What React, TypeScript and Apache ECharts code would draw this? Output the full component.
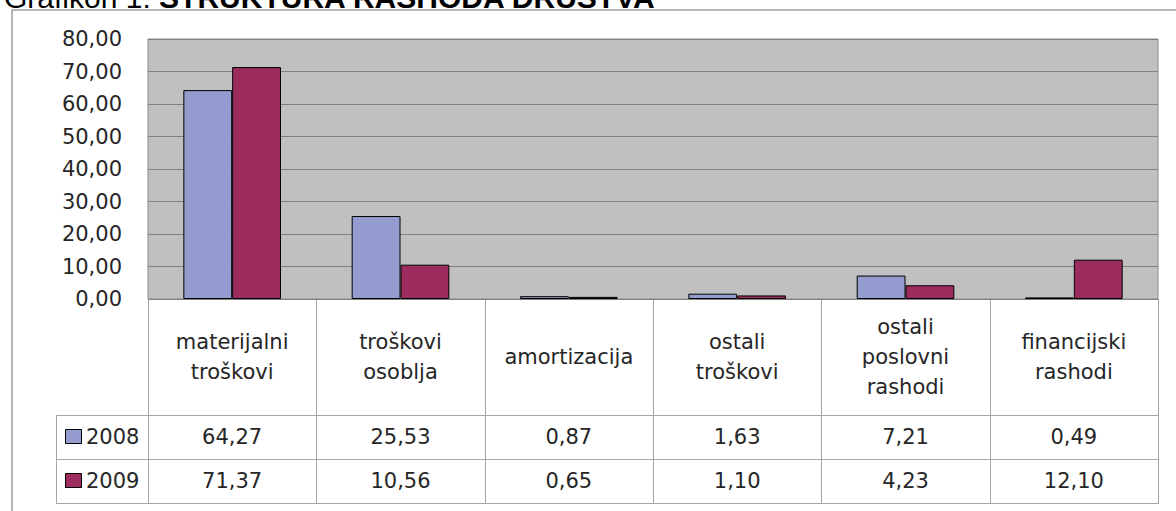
import React, { useEffect, useRef } from "react";
import * as echarts from "echarts";

const categories = [
  "materijalni\ntroškovi",
  "troškovi\nosoblja",
  "amortizacija",
  "ostali\ntroškovi",
  "ostali\nposlovni\nrashodi",
  "financijski\nrashodi",
];
const seriesNames = ["2008", "2009"];
const values2008 = [64.27, 25.53, 0.87, 1.63, 7.21, 0.49];
const values2009 = [71.37, 10.56, 0.65, 1.1, 4.23, 12.1];
const yMin = 0;
const yMax = 80;
const yInterval = 10;
const titlePlain = "Grafikon 1: ";
const titleBold = "STRUKTURA RASHODA DRUŠTVA";

const colors = ["#939BCF", "#9C2C5D"];
const FONT = "DejaVu Sans";
const FS = 21;

const fmt = (v: number) => v.toFixed(2).replace(".", ",");

export default function App() {
  const ref = useRef<HTMLDivElement>(null);
  useEffect(() => {
    if (!ref.current) return;
    const chart = echarts.init(ref.current, undefined, { renderer: "svg" });

    const W = 1176;
    const gridLeft = 148;
    const gridRight = 1158;
    const gridTop = 39;
    const gridBottom = 299;
    const rowTop1 = 415;
    const rowTop2 = 459;
    const rowBottom = 503;
    const legendLeft = 56;
    const n = categories.length;
    const colW = (gridRight - gridLeft) / n;
    const lineColor = "#A6A6A6";

    const graphics: any[] = [];
    // title (cut off at top, as in the reference)
    graphics.push({
      type: "text",
      x: 4,
      y: -3,
      style: {
        text: `{a|${titlePlain}}{b|${titleBold}}`,
        verticalAlign: "middle",
        rich: {
          a: { fontFamily: "Liberation Sans", fontSize: 30, fill: "#000" },
          b: { fontFamily: "Liberation Sans", fontSize: 30, fontWeight: "bold", fill: "#000" },
        },
      },
    });
    // outer border
    graphics.push({
      type: "polyline",
      shape: { points: [[12, 511], [12, 10], [W, 10]] },
      style: { stroke: "#A0A0A0", lineWidth: 1.5, fill: "none" },
    });
    // table verticals
    for (let i = 0; i <= n; i++) {
      const x = Math.round(gridLeft + i * colW) + 0.5;
      graphics.push({
        type: "line",
        shape: { x1: x, y1: gridBottom, x2: x, y2: rowBottom },
        style: { stroke: lineColor, lineWidth: 1 },
      });
    }
    graphics.push({
      type: "line",
      shape: { x1: legendLeft + 0.5, y1: rowTop1, x2: legendLeft + 0.5, y2: rowBottom },
      style: { stroke: lineColor, lineWidth: 1 },
    });
    [rowTop1, rowTop2, rowBottom].forEach((y) => {
      graphics.push({
        type: "line",
        shape: { x1: legendLeft, y1: y + 0.5, x2: gridRight + 1, y2: y + 0.5 },
        style: { stroke: lineColor, lineWidth: 1 },
      });
    });
    const rows = [values2008, values2009];
    const rowCenters = [(rowTop1 + rowTop2) / 2, (rowTop2 + rowBottom) / 2];
    rows.forEach((vals, r) => {
      const cy = rowCenters[r];
      graphics.push({
        type: "rect",
        shape: { x: 65.5, y: cy - 7.5, width: 16, height: 14 },
        style: { fill: colors[r], stroke: "#000", lineWidth: 1 },
      });
      graphics.push({
        type: "text",
        x: 86,
        y: cy,
        style: {
          text: seriesNames[r],
          fontFamily: FONT,
          fontSize: FS,
          fill: "#262626",
          verticalAlign: "middle",
        },
      });
      vals.forEach((v, i) => {
        graphics.push({
          type: "text",
          x: gridLeft + (i + 0.5) * colW,
          y: cy,
          style: {
            text: fmt(v),
            fontFamily: FONT,
            fontSize: FS,
            fill: "#262626",
            align: "center",
            verticalAlign: "middle",
          },
        });
      });
    });

    chart.setOption({
      animation: false,
      backgroundColor: "#fff",
      grid: {
        left: gridLeft,
        right: W - gridRight,
        top: gridTop,
        bottom: 511 - gridBottom,
        show: true,
        backgroundColor: "#C0C0C0",
        borderColor: "#8C8C8C",
        borderWidth: 1,
      },
      xAxis: {
        type: "category",
        data: categories,
        axisLine: { show: false },
        axisTick: { show: false },
        splitLine: { show: false },
        axisLabel: {
          interval: 0,
          fontFamily: FONT,
          fontSize: FS,
          lineHeight: 30,
          color: "#262626",
          verticalAlign: "middle",
          margin: (rowTop1 - gridBottom) / 2,
        },
      },
      yAxis: {
        type: "value",
        min: yMin,
        max: yMax,
        interval: yInterval,
        axisLine: { show: false },
        axisTick: { show: false },
        splitLine: { lineStyle: { color: "#808080", width: 1 } },
        axisLabel: {
          formatter: (v: number) => fmt(v),
          fontFamily: FONT,
          fontSize: FS,
          color: "#262626",
          margin: 26,
        },
      },
      series: [
        {
          type: "bar",
          name: seriesNames[0],
          data: values2008,
          barGap: "0%",
          barCategoryGap: "42%",
          itemStyle: { color: colors[0], borderColor: "#000", borderWidth: 1 },
        },
        {
          type: "bar",
          name: seriesNames[1],
          data: values2009,
          barGap: "0%",
          barCategoryGap: "42%",
          itemStyle: { color: colors[1], borderColor: "#000", borderWidth: 1 },
        },
      ],
      graphic: graphics,
    });
    return () => chart.dispose();
  }, []);
  return (
    <div
      ref={ref}
      style={{ position: "fixed", left: 0, top: 0, width: 1176, height: 511 }}
    />
  );
}
